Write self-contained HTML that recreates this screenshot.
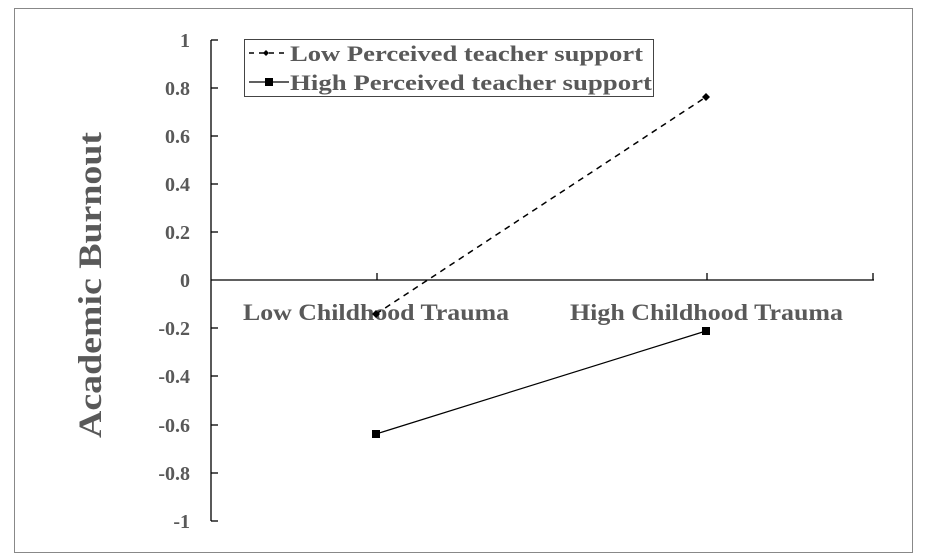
<!DOCTYPE html>
<html><head><style>
body{margin:0;background:#fff;}
svg{display:block;}
text{font-family:"Liberation Serif",serif;font-weight:bold;fill:#595959;}
</style></head><body>
<svg width="928" height="556" viewBox="0 0 928 556">
<rect x="14.5" y="8.5" width="898" height="544" fill="#fff" stroke="#888" stroke-width="1"/>
<g stroke="#000" stroke-width="1.3" fill="none">
<line x1="211" y1="40" x2="211" y2="521"/>
<line x1="211" y1="280" x2="874" y2="280"/>
</g>
<g stroke="#000" stroke-width="1.3">
<line x1="211" y1="40" x2="218" y2="40"/>
<line x1="211" y1="88" x2="218" y2="88"/>
<line x1="211" y1="136" x2="218" y2="136"/>
<line x1="211" y1="184" x2="218" y2="184"/>
<line x1="211" y1="232" x2="218" y2="232"/>
<line x1="211" y1="328" x2="218" y2="328"/>
<line x1="211" y1="376" x2="218" y2="376"/>
<line x1="211" y1="425" x2="218" y2="425"/>
<line x1="211" y1="473" x2="218" y2="473"/>
<line x1="211" y1="521" x2="218" y2="521"/>
<line x1="377" y1="273" x2="377" y2="280"/>
<line x1="707" y1="273" x2="707" y2="280"/>
<line x1="873" y1="273" x2="873" y2="280"/>
</g>
<g font-size="20" text-anchor="end">
<text x="190" y="47">1</text>
<text x="190" y="95">0.8</text>
<text x="190" y="143">0.6</text>
<text x="190" y="191">0.4</text>
<text x="190" y="239">0.2</text>
<text x="190" y="287">0</text>
<text x="190" y="335">-0.2</text>
<text x="190" y="383">-0.4</text>
<text x="190" y="432">-0.6</text>
<text x="190" y="480">-0.8</text>
<text x="190" y="528">-1</text>
</g>
<g font-size="23">
<text x="243" y="320" textLength="266" lengthAdjust="spacingAndGlyphs">Low Childhood Trauma</text>
<text x="570" y="320" textLength="273" lengthAdjust="spacingAndGlyphs">High Childhood Trauma</text>
</g>
<text transform="translate(101,438) rotate(-90)" font-size="33" textLength="306" lengthAdjust="spacingAndGlyphs">Academic Burnout</text>
<line x1="376" y1="314" x2="706" y2="97" stroke="#000" stroke-width="1.5" stroke-dasharray="6,5"/>
<polygon points="376,310 380,314 376,318 372,314" fill="#000"/>
<polygon points="706,93 710,97 706,101 702,97" fill="#000"/>
<line x1="376" y1="434" x2="706" y2="331" stroke="#000" stroke-width="1.2"/>
<rect x="372" y="430" width="8" height="8" fill="#000"/>
<rect x="702" y="327" width="8" height="8" fill="#000"/>
<rect x="244.5" y="39.5" width="409" height="57" fill="#fff" stroke="#444" stroke-width="1"/>
<line x1="249" y1="53" x2="289" y2="53" stroke="#000" stroke-width="1.5" stroke-dasharray="5,5"/>
<polygon points="266,50 269,53 266,56 263,53" fill="#000"/>
<line x1="249" y1="82" x2="289" y2="82" stroke="#000" stroke-width="1.2"/>
<rect x="265" y="78" width="8" height="8" fill="#000"/>
<g font-size="22">
<text x="290" y="61" textLength="353" lengthAdjust="spacingAndGlyphs">Low Perceived teacher support</text>
<text x="290" y="90" textLength="362" lengthAdjust="spacingAndGlyphs">High Perceived teacher support</text>
</g>
</svg>
</body></html>
